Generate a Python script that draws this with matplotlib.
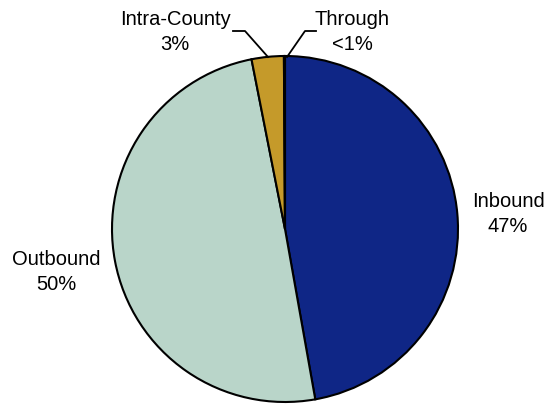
import matplotlib.pyplot as plt

labels = ["Inbound", "Outbound", "Intra-County", "Through"]
shares = [47.2, 49.7, 3.0, 0.1]
pct_text = ["47%", "50%", "3%", "<1%"]
colors = ["#0F2686", "#B9D5C9", "#C59A2A", "#FFFFFF"]

plt.rcParams["font.family"] = ["Liberation Sans", "DejaVu Sans"]

fig = plt.figure(figsize=(5.45, 4.06), dpi=100)
ax = fig.add_axes([0, 0, 1, 1])

cx, cy, r = 285, 176, 173
ax.pie(shares, colors=colors, startangle=90, counterclock=False,
       center=(cx, cy), radius=r, frame=True,
       wedgeprops=dict(edgecolor="black", linewidth=1.5))
ax.set_xlim(0, 545)
ax.set_ylim(0, 406)
ax.set_aspect("equal")
ax.axis("off")

fs = 14.5
ls = 1.4
ax.text(508, 192, f"{labels[0]}\n{pct_text[0]}", ha="center", va="center", fontsize=fs, linespacing=ls)
ax.text(56, 134, f"{labels[1]}\n{pct_text[1]}", ha="center", va="center", fontsize=fs, linespacing=ls)
ax.text(175, 374, f"{labels[2]}\n{pct_text[2]}", ha="center", va="center", fontsize=fs, linespacing=ls)
ax.text(352, 374, f"{labels[3]}\n{pct_text[3]}", ha="center", va="center", fontsize=fs, linespacing=ls)

# leader lines for the small slices
ax.plot([268, 245, 233], [348, 374, 374], color="black", lw=1.3)
ax.plot([287, 305, 316], [348, 374, 374], color="black", lw=1.3)

fig.savefig("out.png", dpi=100)
